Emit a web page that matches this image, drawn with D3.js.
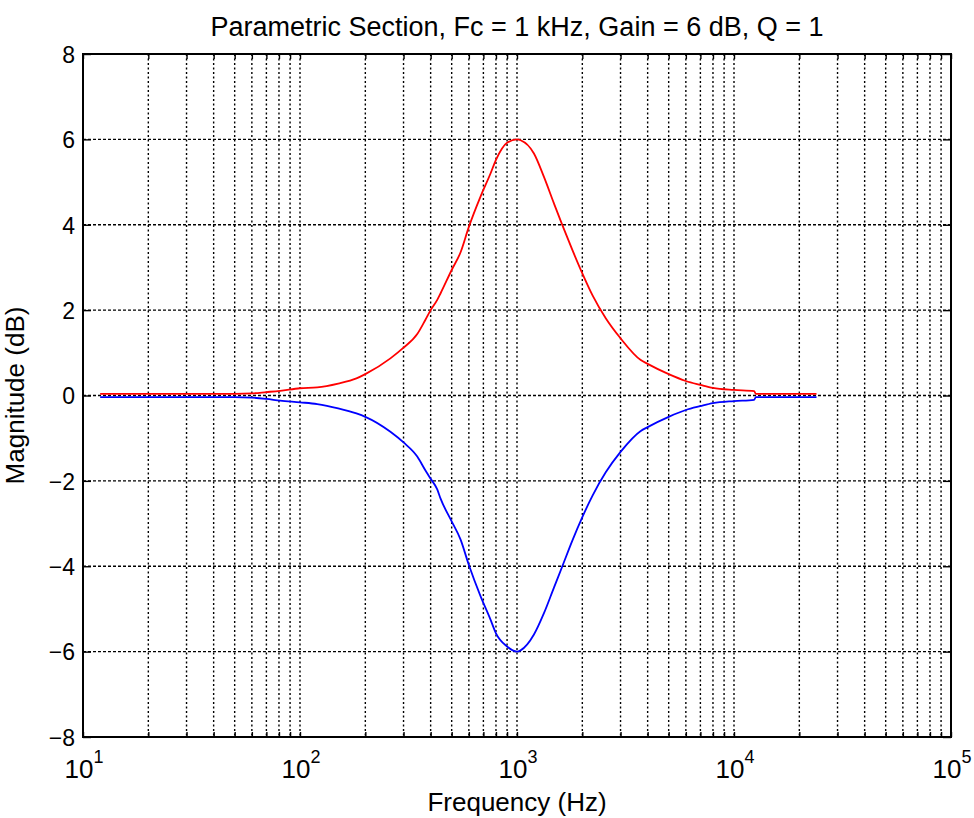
<!DOCTYPE html>
<html>
<head>
<meta charset="utf-8">
<script src="https://cdn.jsdelivr.net/npm/d3@7"></script>
<style>
  body { margin: 0; background: #fff; }
  text { font-family: 'Liberation Sans', Arial, sans-serif; fill: #000; }
</style>
</head>
<body>
<div id="chart"></div>
<script>
// values
const freqs = [12, 50, 60, 70, 81, 100, 120, 150, 182, 200, 261, 300, 347, 378, 400,
  429, 444, 500, 549, 600, 679, 755, 800, 900, 1000, 1039, 1197, 1331, 1480, 1618,
  1799, 2000, 2226, 2564, 3000, 3718, 4000, 5000, 6000, 7000, 8000, 10000, 12390, 12600, 24000]
const boostDb = [0.04, 0.04, 0.05, 0.08, 0.11, 0.17, 0.19, 0.28, 0.40, 0.50, 0.87, 1.12, 1.44, 1.77, 2.0,
  2.24, 2.39, 2.94, 3.35, 3.95, 4.66, 5.2, 5.52, 5.92, 6.0, 5.98, 5.67, 5.12, 4.5, 3.99,
  3.41, 2.86, 2.35, 1.81, 1.34, 0.83, 0.74, 0.50, 0.34, 0.25, 0.18, 0.13, 0.10, 0.04, 0.04]
const cutDb = [-0.04, -0.04, -0.05, -0.08, -0.12, -0.16, -0.2, -0.3, -0.42, -0.5, -0.85, -1.1, -1.43, -1.75, -1.95,
  -2.2, -2.41, -2.95, -3.37, -3.97, -4.7, -5.25, -5.57, -5.88, -6.0, -5.97, -5.6, -5.1, -4.5, -4.0,
  -3.4, -2.85, -2.35, -1.8, -1.32, -0.83, -0.74, -0.5, -0.34, -0.25, -0.18, -0.13, -0.1, -0.04, -0.04]
const yTicks = [-8, -6, -4, -2, 0, 2, 4, 6, 8]
const xDecades = [1, 2, 3, 4, 5]

const margin = { top: 54, left: 83, right: 23, bottom: 81 }
const width = 974 - margin.left - margin.right
const height = 818 - margin.top - margin.bottom

const svg = d3
  .select('#chart')
  .append('svg')
  .attr('width', 974)
  .attr('height', 818)
  .append('g')
  .attr('transform', 'translate(' + margin.left + ',' + margin.top + ')')

const x = d3.scaleLog().domain([10, 100000]).range([0, width])
const y = d3.scaleLinear().domain([-8, 8]).range([height, 0])

// every 1..9 x decade, for grid and ticks
const minorVals = []
for (let e = 1; e < 5; e++) {
  for (let m = 1; m <= 9; m++) minorVals.push(m * Math.pow(10, e))
}
minorVals.push(100000)

// grid
svg.append('g')
  .selectAll('line')
  .data(minorVals.filter(v => v > 10 && v < 100000))
  .enter()
  .append('line')
  .attr('x1', d => x(d)).attr('x2', d => x(d))
  .attr('y1', 0).attr('y2', height)
  .attr('stroke', '#000')
  .attr('stroke-width', 1.4)
  .attr('stroke-dasharray', '2,2.5')

svg.append('g')
  .selectAll('line')
  .data(yTicks.filter(v => v > -8 && v < 8))
  .enter()
  .append('line')
  .attr('x1', 0).attr('x2', width)
  .attr('y1', d => y(d)).attr('y2', d => y(d))
  .attr('stroke', '#000')
  .attr('stroke-width', 1.4)
  .attr('stroke-dasharray', '3,2')

// axes
const xAxis = d3.axisBottom(x).tickValues(minorVals).tickSize(-5).tickFormat('')
svg.append('g')
  .attr('class', 'x-axis')
  .attr('transform', 'translate(0,' + height + ')')
  .call(xAxis)
svg.append('g')
  .attr('class', 'x-axis-top')
  .call(d3.axisTop(x).tickValues(minorVals).tickSize(-5).tickFormat(''))

const yAxis = d3.axisLeft(y).tickValues(yTicks).tickSize(-8).tickPadding(8)
svg.append('g').attr('class', 'y-axis').call(yAxis)
svg.append('g')
  .attr('transform', 'translate(' + width + ',0)')
  .call(d3.axisRight(y).tickValues(yTicks).tickSize(-8).tickFormat(''))

svg.selectAll('.domain').remove()
svg.selectAll('.tick line').attr('stroke', '#000').attr('stroke-width', 1.4)

svg.selectAll('.y-axis text')
  .style('font-size', '23px')
  .attr('dy', '0.36em')

// decade labels 10^n
const xl = svg.append('g')
  .selectAll('text')
  .data(xDecades)
  .enter()
  .append('text')
  .attr('x', d => x(Math.pow(10, d)) + 1)
  .attr('y', height + 41)
  .attr('text-anchor', 'middle')
  .style('font-size', '26px')
xl.append('tspan').text('10')
xl.append('tspan')
  .attr('dy', -15)
  .style('font-size', '18px')
  .text(d => d)

// box
svg.append('rect')
  .attr('width', width)
  .attr('height', height)
  .attr('fill', 'none')
  .attr('stroke', '#000')
  .attr('stroke-width', 2)

// curves
const line = d3.line()
  .x(d => x(d[0]))
  .y(d => y(d[1]))
  .curve(d3.curveMonotoneX)

svg.append('path')
  .datum(freqs.map((f, i) => [f, cutDb[i]]))
  .attr('d', line)
  .attr('fill', 'none')
  .attr('stroke', '#0000ff')
  .attr('stroke-width', 1.8)

svg.append('path')
  .datum(freqs.map((f, i) => [f, boostDb[i]]))
  .attr('d', line)
  .attr('fill', 'none')
  .attr('stroke', '#ff0000')
  .attr('stroke-width', 1.8)

// titles
svg.append('text')
  .attr('x', width / 2)
  .attr('y', -18)
  .attr('text-anchor', 'middle')
  .style('font-size', '27px')
  .text('Parametric Section, Fc = 1 kHz, Gain = 6 dB, Q = 1')

svg.append('text')
  .attr('x', width / 2)
  .attr('y', height + 74)
  .attr('text-anchor', 'middle')
  .style('font-size', '26px')
  .text('Frequency (Hz)')

svg.append('text')
  .attr('transform', 'translate(-59,' + height / 2 + ') rotate(-90)')
  .attr('text-anchor', 'middle')
  .style('font-size', '26px')
  .text('Magnitude (dB)')
</script>
</body>
</html>
